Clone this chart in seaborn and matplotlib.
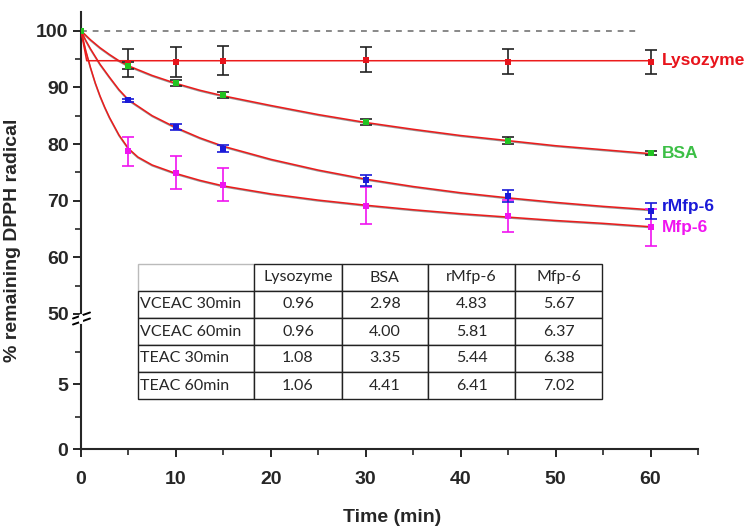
import matplotlib
matplotlib.use("Agg")
import matplotlib.pyplot as plt
import seaborn as sns
import pandas as pd
import numpy as np

# measured points (time in min, % remaining DPPH radical, error)
time_pts = [0, 5, 10, 15, 30, 45, 60]
lyso_y = [100, 94.3, 94.5, 94.7, 94.9, 94.5, 94.5]
lyso_err = [0, 2.4, 2.7, 2.6, 2.2, 2.2, 2.1]
bsa_y = [100, 93.8, 90.8, 88.6, 83.9, 80.6, 78.4]
bsa_err = [0, 0.6, 0.5, 0.5, 0.5, 0.6, 0.4]
rmfp_y = [100, 87.7, 83.0, 79.2, 73.6, 70.8, 68.2]
rmfp_err = [0, 0.3, 0.5, 0.6, 1.0, 1.1, 1.4]
mfp_y = [100, 78.7, 74.9, 72.8, 69.1, 67.3, 65.3]
mfp_err = [0, 2.5, 2.9, 2.9, 3.3, 2.9, 3.3]

# fitted curves
lyso_fit_t = [0, 0.6, 60]
lyso_fit_y = [100, 94.7, 94.7]
bsa_fit_t = [0, 1, 2, 3, 4, 5, 7.5, 10, 12.5, 15, 20, 25, 30, 35, 40, 45, 50, 55, 60]
bsa_fit_y = [100, 98.4, 97.0, 95.8, 94.7, 93.8, 92.1, 90.7, 89.5, 88.5, 86.8, 85.2,
             83.8, 82.6, 81.5, 80.6, 79.7, 79.0, 78.3]
rmfp_fit_t = [0, 0.5, 1, 2, 3, 4, 5, 7.5, 10, 12.5, 15, 20, 25, 30, 35, 40, 45, 50, 55, 60]
rmfp_fit_y = [100, 98.3, 96.8, 94.1, 91.8, 89.6, 87.8, 85.0, 82.9, 81.1, 79.6, 77.3,
              75.4, 73.8, 72.5, 71.4, 70.5, 69.7, 69.0, 68.4]
mfp_fit_t = [0, 0.5, 1, 1.5, 2, 2.5, 3, 4, 5, 6, 7.5, 10, 12.5, 15, 20, 25, 30, 35,
             40, 45, 50, 55, 60]
mfp_fit_y = [100, 96.5, 93.5, 90.8, 88.5, 86.5, 84.7, 81.6, 79.2, 77.7, 76.3, 74.8,
             73.6, 72.6, 71.2, 70.1, 69.2, 68.4, 67.7, 67.1, 66.5, 66.0, 65.4]

samples = ["Lysozyme", "BSA", "rMfp-6", "Mfp-6"]
table_rows = ["VCEAC 30min", "VCEAC 60min", "TEAC 30min", "TEAC 60min"]
table_vals = [["0.96", "2.98", "4.83", "5.67"],
              ["0.96", "4.00", "5.81", "6.37"],
              ["1.08", "3.35", "5.44", "6.38"],
              ["1.06", "4.41", "6.41", "7.02"]]

marker_colors = {"Lysozyme": "#e8141c", "BSA": "#22c422", "rMfp-6": "#1a1ad8", "Mfp-6": "#f014f0"}
err_colors = {"Lysozyme": "#222222", "BSA": "#222222", "rMfp-6": "#1a1ad8", "Mfp-6": "#f014f0"}
label_colors = {"Lysozyme": "#e8141c", "BSA": "#3cbf46", "rMfp-6": "#1a1ad8", "Mfp-6": "#f014f0"}

sns.set_theme(style="ticks")
plt.rcParams["font.family"] = ["Liberation Sans", "DejaVu Sans"]
plt.rcParams["font.weight"] = "bold"

fig = plt.figure(figsize=(7.5, 5.31), dpi=100)
L, W = 81 / 750, 617 / 750
ax_top = fig.add_axes([L, 1 - 314 / 531, W, 302 / 531])
ax_bot = fig.add_axes([L, 1 - 449 / 531, W, 127 / 531])

fit_df = pd.concat([
    pd.DataFrame({"t": lyso_fit_t, "y": lyso_fit_y, "s": "Lysozyme"}),
    pd.DataFrame({"t": bsa_fit_t, "y": bsa_fit_y, "s": "BSA"}),
    pd.DataFrame({"t": rmfp_fit_t, "y": rmfp_fit_y, "s": "rMfp-6"}),
    pd.DataFrame({"t": mfp_fit_t, "y": mfp_fit_y, "s": "Mfp-6"}),
])

# reference level
ax_top.plot([0, 58.5], [100, 100], ls=(0, (3, 3)), color="#888888", lw=1.4, zorder=1)

# dark underlay then red fit line
for s in samples[1:]:
    d = fit_df[fit_df.s == s]
    ax_top.plot(d.t, d.y - 0.15, color="#333333", lw=1.1, alpha=0.5, zorder=2)
sns.lineplot(data=fit_df, x="t", y="y", units="s", estimator=None, color="#ec1c1c",
             lw=1.1, sort=False, ax=ax_top, zorder=3)

series = {"Lysozyme": (lyso_y, lyso_err), "BSA": (bsa_y, bsa_err),
          "rMfp-6": (rmfp_y, rmfp_err), "Mfp-6": (mfp_y, mfp_err)}
for s in ["Mfp-6", "rMfp-6", "Lysozyme", "BSA"]:
    y, e = series[s]
    ax_top.errorbar(time_pts[1:], y[1:], yerr=e[1:], fmt="none", ecolor=err_colors[s],
                    elinewidth=1.2, capsize=4, capthick=1.2, zorder=4)
    ax_top.scatter(time_pts, y, marker="s", s=16, color=marker_colors[s], zorder=5, linewidths=0)

label_pos = {"Lysozyme": 94.7, "BSA": 78.3, "rMfp-6": 69.0, "Mfp-6": 65.2}
for s in samples:
    ax_top.text(61.2, label_pos[s], s, color=label_colors[s], fontsize=12.5,
                fontweight="bold", va="center", ha="left")

ax_top.set_ylim(50, 103.3)
ax_bot.set_ylim(0, 9.77)
for ax in (ax_top, ax_bot):
    ax.set_xlim(0, 65)
    ax.spines["right"].set_visible(False)
    ax.spines["top"].set_visible(False)
    ax.spines["left"].set_linewidth(1.5)
    ax.spines["bottom"].set_linewidth(1.5)
    ax.set_xlabel("")
    ax.set_ylabel("")
    ax.tick_params(axis="both", which="major", length=6, width=1.4, pad=3)
    ax.tick_params(axis="both", which="minor", length=4, width=1.2)
    ax.set_facecolor("white")

ax_top.spines["bottom"].set_visible(False)
ax_top.tick_params(axis="x", which="both", bottom=False, labelbottom=False)
ax_top.set_yticks([50, 60, 70, 80, 90, 100])
ax_top.set_yticks([55, 65, 75, 85, 95], minor=True)
ax_bot.set_yticks([0, 5])
ax_bot.set_yticks([2.5, 7.5], minor=True)
ax_bot.set_xticks([0, 10, 20, 30, 40, 50, 60])
ax_bot.set_xticks([5, 15, 25, 35, 45, 55, 65], minor=True)
ax_bot.tick_params(axis="x", which="major", pad=10)
for ax in (ax_top, ax_bot):
    for lab in ax.get_yticklabels() + ax.get_xticklabels():
        lab.set_fontweight("bold")
        lab.set_fontsize(14)

# axis break marks
for yb in (315.5, 321.5):
    fig.add_artist(plt.Line2D([73 / 750, 90 / 750], [1 - (yb + 3) / 531, 1 - (yb - 3) / 531],
                              color="black", lw=1.4))
fig.add_artist(plt.Line2D([L, L], [1 - 321.5 / 531, 1 - 315.5 / 531], color="white", lw=3))

fig.text(13 / 750, 1 - 240 / 531, "% remaining DPPH radical", rotation=90, ha="center",
         va="center", fontsize=14, fontweight="bold")
fig.text(392 / 750, 1 - 518 / 531, "Time (min)", ha="center", va="center",
         fontsize=14, fontweight="bold")

# inset table
ax_t = fig.add_axes([138 / 750, 1 - 399 / 531, 464 / 750, 135 / 531])
ax_t.axis("off")
cell_text = [[""] + samples] + [[r] + v for r, v in zip(table_rows, table_vals)]
tbl = ax_t.table(cellText=cell_text, bbox=[0, 0, 1, 1], cellLoc="center",
                 colWidths=[116, 87.7, 86, 87.3, 86.7])
tbl.auto_set_font_size(False)
for (r, c), cell in tbl.get_celld().items():
    cell.set_linewidth(1.0)
    cell.set_edgecolor("#222222")
    cell.get_text().set_fontsize(11.5)
    cell.get_text().set_fontweight("normal")
    cell.get_text().set_family(["Lato", "DejaVu Sans"])
    if c == 0:
        cell.get_text().set_ha("left")
        cell.PAD = 0.02
    if r == 0 and c == 0:
        cell.set_edgecolor("#bbbbbb")

fig.savefig("out.png", dpi=100, facecolor="white")
